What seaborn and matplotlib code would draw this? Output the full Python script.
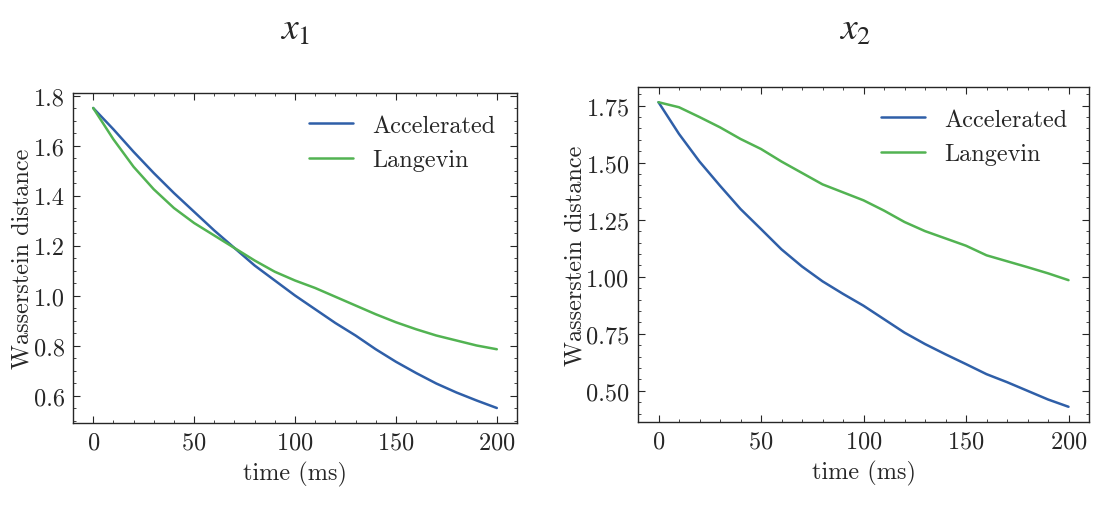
import matplotlib
matplotlib.use("Agg")
import matplotlib.pyplot as plt
import seaborn as sns
import pandas as pd
from matplotlib.ticker import MultipleLocator, FormatStrFormatter

# time axis (ms), every 10 ms
time_ms = [0, 10, 20, 30, 40, 50, 60, 70, 80, 90, 100,
           110, 120, 130, 140, 150, 160, 170, 180, 190, 200]

# x1 panel
x1_accel = [1.75, 1.665, 1.575, 1.49, 1.41, 1.335, 1.26, 1.19, 1.12, 1.06, 1.0,
            0.945, 0.89, 0.84, 0.785, 0.735, 0.69, 0.648, 0.612, 0.58, 0.55]
x1_lang = [1.75, 1.625, 1.515, 1.425, 1.35, 1.29, 1.24, 1.19, 1.14, 1.095, 1.06,
           1.03, 0.995, 0.96, 0.925, 0.893, 0.865, 0.84, 0.82, 0.80, 0.785]

# x2 panel
x2_accel = [1.765, 1.626, 1.505, 1.399, 1.297, 1.209, 1.12, 1.045, 0.98, 0.925, 0.873,
            0.814, 0.755, 0.705, 0.66, 0.617, 0.573, 0.538, 0.50, 0.462, 0.43]
x2_lang = [1.765, 1.743, 1.70, 1.655, 1.604, 1.56, 1.505, 1.455, 1.405, 1.37, 1.335,
           1.29, 1.24, 1.20, 1.168, 1.136, 1.094, 1.068, 1.042, 1.015, 0.985]

titles = [r"$x_1$", r"$x_2$"]
series_names = ["Accelerated", "Langevin"]
colors = {"Accelerated": "#2F5FA8", "Langevin": "#52B352"}

sns.set_style("ticks")
plt.rcParams.update({
    "font.family": "serif",
    "font.serif": ["cmr10", "DejaVu Serif"],
    "mathtext.fontset": "cm",
    "axes.formatter.use_mathtext": True,
    "font.size": 17.5,
    "axes.linewidth": 1.0,
    "xtick.direction": "in",
    "ytick.direction": "in",
    "xtick.top": True,
    "ytick.right": True,
    "xtick.major.size": 5,
    "ytick.major.size": 5,
    "xtick.minor.size": 2.5,
    "ytick.minor.size": 2.5,
    "xtick.minor.visible": True,
    "ytick.minor.visible": True,
})

def make_df(accel, lang):
    return pd.DataFrame({
        "time": time_ms * 2,
        "value": accel + lang,
        "method": [series_names[0]] * len(time_ms) + [series_names[1]] * len(time_ms),
    })

fig = plt.figure(figsize=(11.09, 5.06), dpi=100)
ax1 = fig.add_axes([73 / 1109, (506 - 424) / 506, 444 / 1109, 330 / 506])
ax2 = fig.add_axes([638 / 1109, (506 - 423) / 506, 451 / 1109, 335 / 506])

panels = [(ax1, make_df(x1_accel, x1_lang), 0.2, 0.05, "%.1f"),
          (ax2, make_df(x2_accel, x2_lang), 0.25, 0.05, "%.2f")]

for ax, df, ymaj, ymin, fmt in panels:
    sns.lineplot(data=df, x="time", y="value", hue="method", palette=colors,
                 linewidth=1.8, ax=ax)
    ax.set_xlabel("time (ms)", labelpad=5)
    ax.set_ylabel("Wasserstein distance", labelpad=0)
    ax.xaxis.set_major_locator(MultipleLocator(50))
    ax.xaxis.set_minor_locator(MultipleLocator(10))
    ax.yaxis.set_major_locator(MultipleLocator(ymaj))
    ax.yaxis.set_minor_locator(MultipleLocator(ymin))
    ax.yaxis.set_major_formatter(FormatStrFormatter(fmt))
    ax.tick_params(which="both", top=True, right=True, direction="in")
    ax.tick_params(which="major", pad=6)
    leg = ax.legend(loc="upper right", frameon=False, fontsize=17.5,
                    handlelength=1.8, borderaxespad=0.5)
    leg.set_title(None)

fig.text(295 / 1109, 1 - 30 / 506, titles[0], ha="center", va="center",
         fontsize=27, math_fontfamily="stix")
fig.text(855 / 1109, 1 - 30 / 506, titles[1], ha="center", va="center",
         fontsize=27, math_fontfamily="stix")

fig.savefig("out.png", dpi=100)
